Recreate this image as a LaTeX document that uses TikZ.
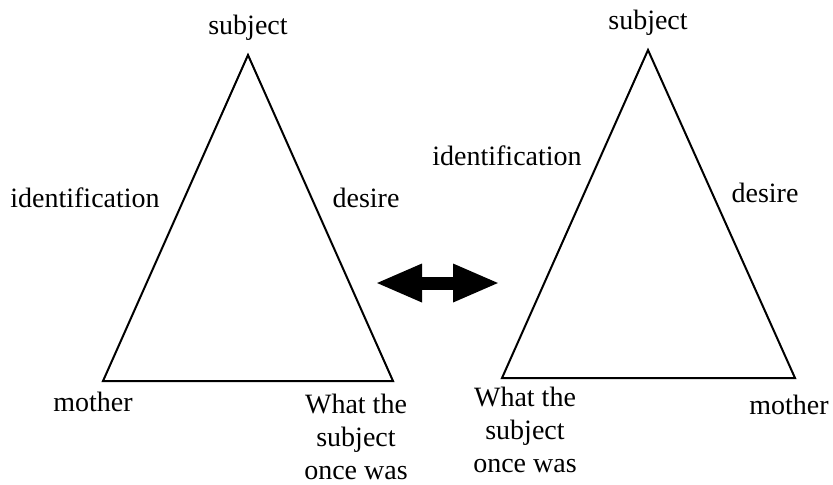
\documentclass[tikz,border=0pt]{standalone}
\usepackage{fontspec}
\setmainfont{Liberation Serif}
\usetikzlibrary{arrows.meta, positioning}

\tikzset{
  side/.style={line width=1pt, line join=miter},
  lbl/.style={inner sep=0pt, font=\fontsize{14}{16.3}\selectfont, align=center},
  swap/.style={line width=6.5pt, {Triangle[length=23.5pt,width=17.5pt]}-{Triangle[length=23.5pt,width=17.5pt]}}
}

\begin{document}
\begin{tikzpicture}[x=0.5pt, y=-0.5pt]
  \useasboundingbox (0,0) rectangle (833,484);
  % left triangle
  \coordinate (lS) at (248,55);
  \coordinate (lM) at (103,381);
  \coordinate (lW) at (393,381);
  \draw[side] (lS) -- (lM) -- (lW) -- cycle;
  \node[lbl] (lSubj) at (248,28) {subject};
  \node[lbl] (lIdent) at (85,198) {identification};
  \node[lbl] (lDes) at (366,198) {desire};
  \node[lbl] (lMoth) at (93,402) {mother};
  \node[lbl, anchor=north] (lOnce) at (356,394) {What the\\subject\\once was};
  % right triangle
  \coordinate (rS) at (648,50);
  \coordinate (rW) at (502,378);
  \coordinate (rM) at (795,378);
  \draw[side] (rS) -- (rW) -- (rM) -- cycle;
  \node[lbl] (rSubj) at (648,23) {subject};
  \node[lbl] (rIdent) at (507,156) {identification};
  \node[lbl] (rDes) at (765,193) {desire};
  \node[lbl] (rMoth) at (789,405) {mother};
  \node[lbl, anchor=north] (rOnce) at (525,387) {What the\\subject\\once was};
  % exchange arrow
  \coordinate (aL) at (375,283);
  \coordinate (aR) at (500,283);
  \draw[swap] (aL) -- (aR);
\end{tikzpicture}
\end{document}
